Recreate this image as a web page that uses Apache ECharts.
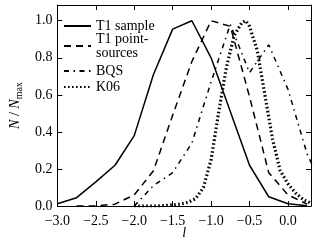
<!DOCTYPE html>
<html>
<head>
<meta charset="utf-8">
<script src="https://cdn.jsdelivr.net/npm/echarts@6/dist/echarts.min.js"></script>
<style>html,body{margin:0;padding:0;background:#fff;}#c{width:317px;height:250px;}</style>
</head>
<body>
<div id="c"></div>
<script>
// ---- data ----
const seriesNames = ['T1 sample', 'T1 point-\nsources', 'BQS', 'K06'];

const lSample = [-3.0, -2.75, -2.5, -2.25, -2.0, -1.75, -1.5, -1.25, -1.0, -0.75, -0.5, -0.25, 0.0, 0.25];
const nSample = [0.012, 0.045, 0.13, 0.22, 0.38, 0.71, 0.955, 1.0, 0.8, 0.51, 0.22, 0.05, 0.012, 0.002];

const lPoint = [-2.75, -2.5, -2.25, -2.0, -1.75, -1.5, -1.25, -1.0, -0.75, -0.5, -0.25, 0.0, 0.25];
const nPoint = [0.0, 0.0, 0.01, 0.06, 0.19, 0.49, 0.78, 1.0, 0.97, 0.59, 0.18, 0.06, 0.01];

const lBQS = [-2.0, -1.75, -1.5, -1.25, -1.0, -0.75, -0.5, -0.25, 0.0, 0.25, 0.5];
const nBQS = [0.0, 0.11, 0.18, 0.34, 0.67, 0.98, 0.72, 0.87, 0.63, 0.28, 0.06];

const lK06 = [-2.0, -1.9, -1.8, -1.7, -1.6, -1.5, -1.4, -1.3, -1.2, -1.1, -1.0, -0.9, -0.8, -0.7, -0.6, -0.55, -0.5, -0.4, -0.3, -0.2, -0.1, 0.0, 0.1, 0.2, 0.3];
const nK06 = [0.0, 0.0, 0.0, 0.0, 0.003, 0.006, 0.01, 0.02, 0.04, 0.1, 0.25, 0.51, 0.75, 0.92, 0.99, 1.0, 0.97, 0.84, 0.6, 0.36, 0.19, 0.12, 0.07, 0.035, 0.015];

const xTicks = [-3.0, -2.5, -2.0, -1.5, -1.0, -0.5, 0.0];
const yTicks = [0.0, 0.2, 0.4, 0.6, 0.8, 1.0];

// ---- chart ----
const FONT = 'Liberation Serif';
const pair = (xs, ys) => xs.map((x, i) => [x, ys[i]]);
const fmt = (v, ticks) => {
  if (!ticks.some(t => Math.abs(t - v) < 1e-6)) return '';
  return v.toFixed(1).replace('-', '\u2212');
};
const baseAxisLine = { show: true, onZero: false, lineStyle: { color: '#000', width: 1 } };
const baseTick = { show: true, inside: true, length: 5, lineStyle: { color: '#000', width: 1 } };
const legendBase = {
  orient: 'vertical', left: 58,
  itemWidth: 27, itemHeight: 14, itemGap: 2,
  itemStyle: { opacity: 0 },
  textStyle: { color: '#000', fontFamily: FONT, fontSize: 14, lineHeight: 14 }
};

const chart = echarts.init(document.getElementById('c'), null, { renderer: 'canvas' });
chart.setOption({
  animation: false,
  backgroundColor: '#fff',
  grid: { left: 47.5, right: 6, top: 5, bottom: 44 },
  xAxis: [
    {
      type: 'value', min: -3.0, max: 0.3, interval: 0.5, position: 'bottom',
      axisLine: baseAxisLine, axisTick: baseTick, splitLine: { show: false },
      axisLabel: { color: '#000', fontFamily: FONT, fontSize: 14, margin: 8, formatter: v => fmt(v, xTicks) },
      name: 'l', nameLocation: 'middle', nameGap: 20, nameMoveOverlap: false,
      nameTextStyle: { color: '#000', fontFamily: FONT, fontSize: 14, fontStyle: 'italic' }
    },
    {
      type: 'value', min: -3.0, max: 0.3, interval: 0.5, position: 'top',
      axisLine: baseAxisLine, axisTick: baseTick, splitLine: { show: false },
      axisLabel: { show: false }
    }
  ],
  yAxis: [
    {
      type: 'value', min: 0, max: 1.085, interval: 0.2, position: 'left',
      axisLine: baseAxisLine, axisTick: baseTick, splitLine: { show: false },
      axisLabel: { color: '#000', fontFamily: FONT, fontSize: 14, margin: 5, formatter: v => fmt(v, yTicks) },
      name: '{i|N}{n| / }{i|N}{s|max}', nameLocation: 'middle', nameGap: 31, nameRotate: 90,
      nameTextStyle: {
        color: '#000', fontFamily: FONT, fontSize: 14,
        rich: {
          i: { fontFamily: FONT, fontSize: 14, fontStyle: 'italic', color: '#000', lineHeight: 18, verticalAlign: 'middle' },
          n: { fontFamily: FONT, fontSize: 14, color: '#000', lineHeight: 18, verticalAlign: 'middle' },
          s: { fontFamily: FONT, fontSize: 10, color: '#000', lineHeight: 18, verticalAlign: 'bottom' }
        }
      }
    },
    {
      type: 'value', min: 0, max: 1.085, interval: 0.2, position: 'right',
      axisLine: baseAxisLine, axisTick: baseTick, splitLine: { show: false },
      axisLabel: { show: false }
    }
  ],
  legend: [
    Object.assign({}, legendBase, { top: 14, itemGap: -1, data: [seriesNames[0], seriesNames[1]] }),
    Object.assign({}, legendBase, { top: 59, data: [seriesNames[2], seriesNames[3]] })
  ],
  series: [
    { name: seriesNames[0], type: 'line', data: pair(lSample, nSample), symbol: 'none',
      lineStyle: { color: '#000', width: 1.5, type: 'solid' }, itemStyle: { color: '#000' } },
    { name: seriesNames[1], type: 'line', data: pair(lPoint, nPoint), symbol: 'none',
      lineStyle: { color: '#000', width: 1.5, type: [7, 5] }, itemStyle: { color: '#000' } },
    { name: seriesNames[2], type: 'line', data: pair(lBQS, nBQS), symbol: 'none',
      lineStyle: { color: '#000', width: 1.5, type: [5, 4.5, 1.5, 4.5] }, itemStyle: { color: '#000' } },
    { name: seriesNames[3], type: 'line', data: pair(lK06, nK06), symbol: 'none',
      lineStyle: { color: '#000', width: 3.2, type: [1.6, 2.4] }, itemStyle: { color: '#000' } }
  ]
});
</script>
</body>
</html>
